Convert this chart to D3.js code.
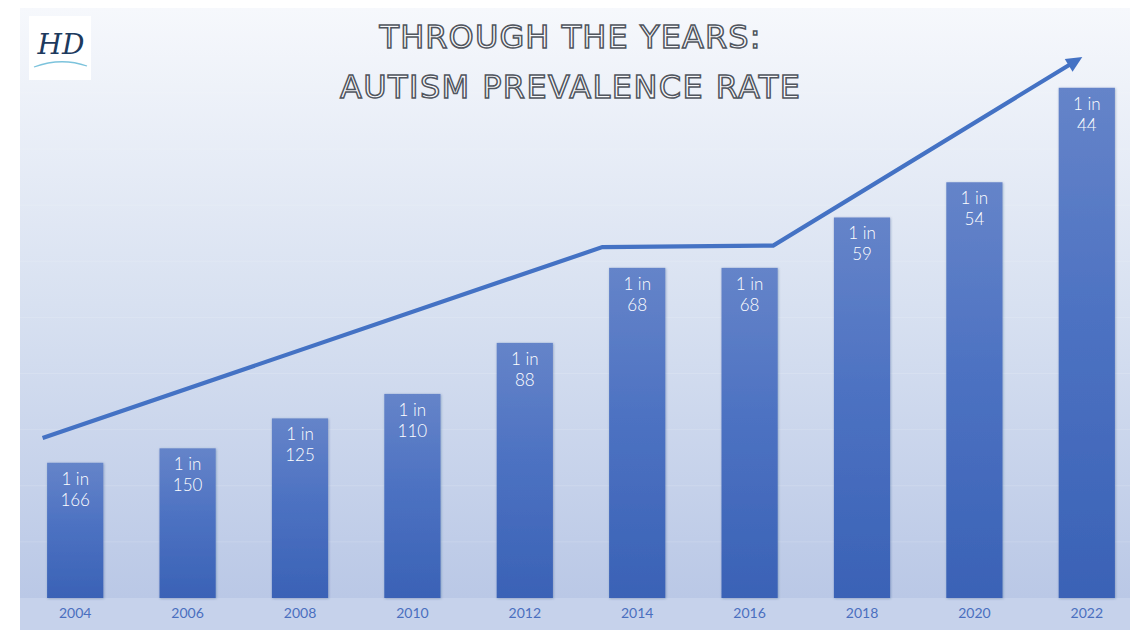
<!DOCTYPE html>
<html>
<head>
<meta charset="utf-8">
<script src="https://cdn.jsdelivr.net/npm/d3@7"></script>
<style>
  html, body { margin: 0; padding: 0; background: #ffffff; }
  svg { display: block; }
</style>
</head>
<body>
<svg id="chart" width="1130" height="630"></svg>
<script>
// ---------- data ----------
const years = ["2004", "2006", "2008", "2010", "2012", "2014", "2016", "2018", "2020", "2022"];
const denominators = [166, 150, 125, 110, 88, 68, 68, 59, 54, 44];   // "1 in N"
const titleLines = ["THROUGH THE YEARS:", "AUTISM PREVALENCE RATE"];
// trend arrow vertices: [position in year index units, prevalence per 1000]
const arrowIdx = [-0.29, 4.69, 6.21, 8.96];
const arrowRate = [7.13, 15.63, 15.7, 24.1];
const gridTicks = [2.5, 5, 7.5, 10, 12.5, 15, 17.5, 20, 22.5];

// ---------- setup ----------
const W = 1130, H = 630;
const svg = d3.select("#chart");
const defs = svg.append("defs");

const bgGrad = defs.append("linearGradient").attr("id", "bg")
  .attr("x1", 0).attr("y1", 0).attr("x2", 0).attr("y2", 1);
bgGrad.append("stop").attr("offset", "0").attr("stop-color", "#f6f8fc");
bgGrad.append("stop").attr("offset", "0.5").attr("stop-color", "#d8e1f1");
bgGrad.append("stop").attr("offset", "1").attr("stop-color", "#bac8e6");

const barGrad = defs.append("linearGradient").attr("id", "barg")
  .attr("x1", 0).attr("y1", 0).attr("x2", 0).attr("y2", 1);
barGrad.append("stop").attr("offset", "0").attr("stop-color", "#6584c9");
barGrad.append("stop").attr("offset", "0.45").attr("stop-color", "#4d72c2");
barGrad.append("stop").attr("offset", "1").attr("stop-color", "#3a62b6");

const shadow = defs.append("filter").attr("id", "sh")
  .attr("x", "-20%").attr("y", "-5%").attr("width", "140%").attr("height", "110%");
shadow.append("feDropShadow").attr("dx", 0.6).attr("dy", 0.6).attr("stdDeviation", 0.8)
  .attr("flood-color", "#1f3a70").attr("flood-opacity", 0.35);

// background panel
const baseY = 598;
svg.append("rect").attr("x", 20).attr("y", 8).attr("width", W - 20).attr("height", baseY - 8)
  .attr("fill", "url(#bg)");
svg.append("rect").attr("x", 20).attr("y", baseY).attr("width", W - 20).attr("height", H - baseY)
  .attr("fill", "#c6d2eb");

// scales
const x = d3.scaleBand().domain(years).range([19, 1143]).paddingInner(0.5).paddingOuter(0.25);
const y = d3.scaleLinear().domain([0, 25]).range([baseY, 36.75]);
const rate = d => 1000 / d;
const xi = d3.scaleLinear().domain([0, years.length - 1])
  .range([x(years[0]) + x.bandwidth() / 2, x(years[years.length - 1]) + x.bandwidth() / 2]);

// faint grid bands
svg.append("g").selectAll("line").data(gridTicks).join("line")
  .attr("x1", 20).attr("x2", W)
  .attr("y1", d => y(d)).attr("y2", d => y(d))
  .attr("stroke", "#ffffff").attr("stroke-opacity", 0.15).attr("stroke-width", 1);

// bars
const bars = svg.append("g");
bars.selectAll("rect").data(years).join("rect")
  .attr("x", d => x(d))
  .attr("y", (d, i) => y(rate(denominators[i])))
  .attr("width", x.bandwidth())
  .attr("height", (d, i) => baseY - y(rate(denominators[i])))
  .attr("fill", "url(#barg)")
  .attr("filter", "url(#sh)");

// bar labels
const lab = svg.append("g").attr("font-family", "Lato, 'Open Sans', sans-serif")
  .attr("font-size", 17).attr("font-weight", 300).attr("fill", "#ffffff").attr("text-anchor", "middle");
years.forEach((yr, i) => {
  const cx = x(yr) + x.bandwidth() / 2;
  const top = y(rate(denominators[i]));
  lab.append("text").attr("x", cx).attr("y", top + 22).text("1 in");
  lab.append("text").attr("x", cx).attr("y", top + 43).text(denominators[i]);
});

// x axis labels
const axis = d3.axisBottom(x).tickSize(0).tickPadding(0);
const ax = svg.append("g").attr("transform", `translate(0,${baseY})`).call(axis);
ax.select(".domain").remove();
ax.selectAll("text")
  .attr("dy", null).attr("y", 19.5)
  .attr("font-family", "Lato, 'Open Sans', sans-serif")
  .attr("font-size", 14).attr("fill", "#4a6fbf");

// trend arrow
const pts = arrowIdx.map((v, i) => [xi(v), y(arrowRate[i])]);
const tip = pts[pts.length - 1], prev = pts[pts.length - 2];
const dx = tip[0] - prev[0], dy = tip[1] - prev[1];
const len = Math.hypot(dx, dy);
const ux = dx / len, uy = dy / len;
const headL = 16, headW = 7.5;
const linePts = pts.slice(0, -1).concat([[tip[0] - ux * (headL - 3), tip[1] - uy * (headL - 3)]]);
svg.append("path").attr("d", d3.line()(linePts))
  .attr("fill", "none").attr("stroke", "#4472c4").attr("stroke-width", 4.2)
  .attr("stroke-linejoin", "miter");
const bx = tip[0] - ux * headL, by = tip[1] - uy * headL;
svg.append("path")
  .attr("d", d3.line()([tip, [bx - uy * headW, by + ux * headW], [bx + uy * headW, by - ux * headW]]) + "Z")
  .attr("fill", "#4472c4");

// title
const title = svg.append("g").attr("font-family", "'DejaVu Sans', sans-serif")
  .attr("font-size", 32).attr("text-anchor", "middle")
  .attr("fill", "#fafbfd").attr("stroke", "#50555e").attr("stroke-width", 1.5);
title.append("text").attr("x", 570).attr("y", 47.5).attr("textLength", 381)
  .attr("lengthAdjust", "spacing").text(titleLines[0]);
title.append("text").attr("x", 570).attr("y", 98).attr("textLength", 460)
  .attr("lengthAdjust", "spacing").text(titleLines[1]);

// logo
const logo = svg.append("g");
logo.append("rect").attr("x", 29).attr("y", 16).attr("width", 62).attr("height", 64).attr("fill", "#ffffff");
logo.append("text").attr("x", 61).attr("y", 54).attr("text-anchor", "middle")
  .attr("font-family", "'DejaVu Serif', serif").attr("font-style", "italic")
  .attr("font-size", 28).attr("fill", "#1d3a5e").text("HD");
logo.append("path").attr("d", "M34,67 Q61,57 87,66")
  .attr("fill", "none").attr("stroke", "#7cc3dc").attr("stroke-width", 1.3);
</script>
</body>
</html>
